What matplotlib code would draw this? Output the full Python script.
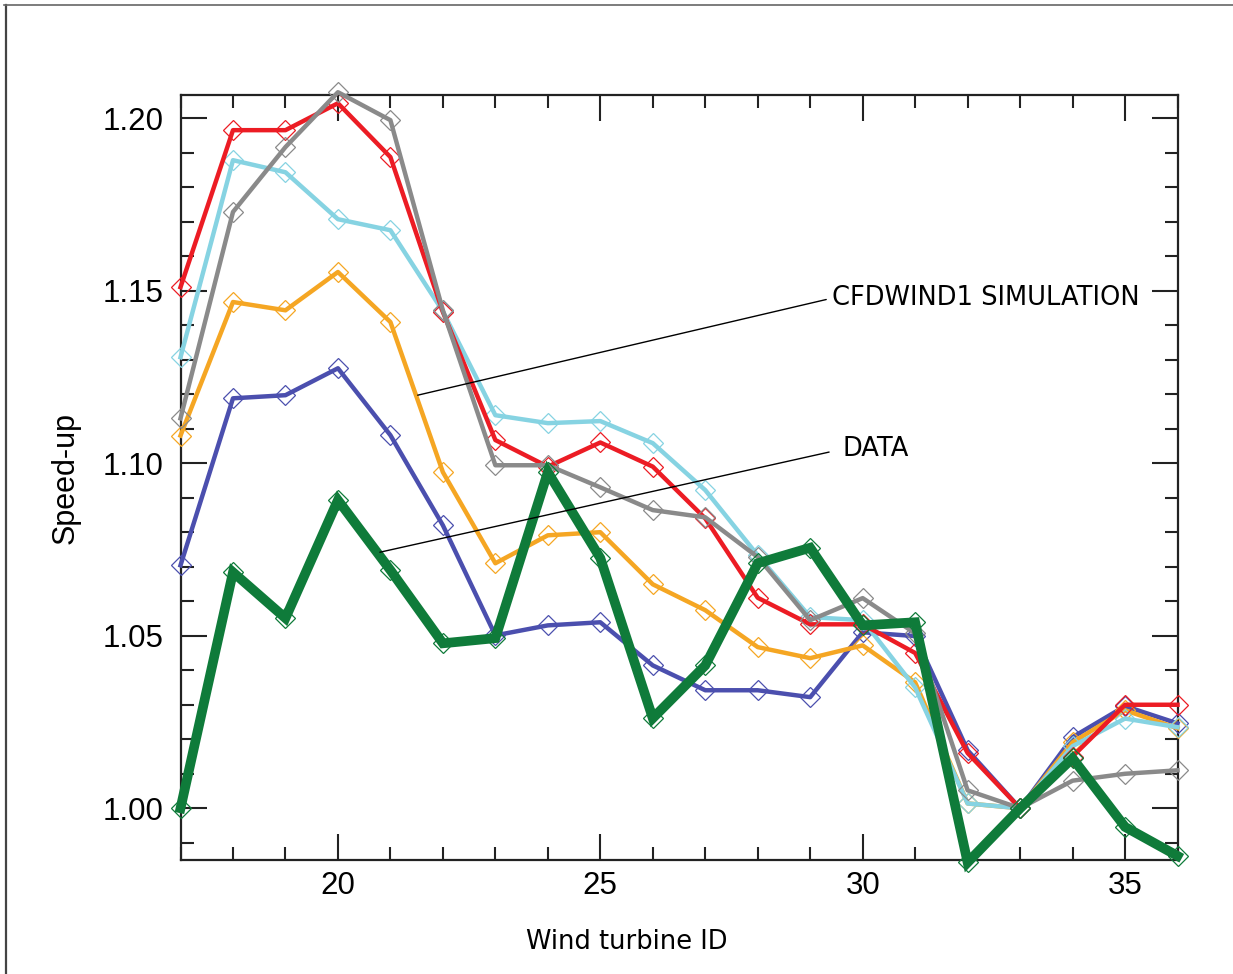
import matplotlib
matplotlib.use("Agg")
import matplotlib.pyplot as plt
from matplotlib.lines import Line2D
from matplotlib.ticker import MultipleLocator, FormatStrFormatter

# Wind turbine IDs along the row
turbine_id = list(range(17, 37))

# Measured speed-up (DATA)
data_obs = [1.000, 1.0684, 1.0551, 1.0893, 1.0690, 1.0478, 1.0493, 1.0974, 1.0725, 1.0261,
            1.0414, 1.0710, 1.0755, 1.0530, 1.0539, 0.9843, 1.0000, 1.0145, 0.9946, 0.9862]

# CFDWIND1 simulation runs
sim_red = [1.1510, 1.1965, 1.1965, 1.2043, 1.1887, 1.1438, 1.1067, 1.0990, 1.1060, 1.0990,
           1.0840, 1.0610, 1.0533, 1.0533, 1.0450, 1.0160, 1.0000, 1.0150, 1.0300, 1.0300]
sim_gray = [1.1130, 1.1728, 1.1916, 1.2075, 1.1994, 1.1443, 1.0994, 1.0994, 1.0930, 1.0864,
            1.0843, 1.0728, 1.0545, 1.0609, 1.0507, 1.0052, 1.0000, 1.0080, 1.0100, 1.0110]
sim_cyan = [1.1307, 1.1878, 1.1843, 1.1707, 1.1675, 1.1440, 1.1139, 1.1116, 1.1122, 1.1058,
            1.0922, 1.0733, 1.0554, 1.0545, 1.0350, 1.0014, 1.0000, 1.0180, 1.0260, 1.0235]
sim_orange = [1.1080, 1.1467, 1.1443, 1.1554, 1.1409, 1.0974, 1.0710, 1.0791, 1.0800, 1.0649,
              1.0574, 1.0467, 1.0435, 1.0472, 1.0365, 1.0014, 1.0000, 1.0191, 1.0284, 1.0232]
sim_blue = [1.0704, 1.1188, 1.1197, 1.1275, 1.1081, 1.0820, 1.0501, 1.0530, 1.0539, 1.0414,
            1.0342, 1.0342, 1.0322, 1.0510, 1.0499, 1.0168, 1.0000, 1.0206, 1.0296, 1.0246]

sim_series = [
    (sim_blue, "#4b4fae"),
    (sim_orange, "#f5a623"),
    (sim_cyan, "#86d3e2"),
    (sim_red, "#ec1c24"),
    (sim_gray, "#8a8a8a"),
]
data_color = "#0f7b3a"

fig = plt.figure(figsize=(12.33, 9.74), dpi=100)
ax = fig.add_axes([0.1464, 0.117, 0.8086, 0.7855])

for values, color in sim_series:
    ax.plot(turbine_id, values, color=color, lw=3.2, marker="D", ms=10,
            mfc="none", mec=color, mew=0.9, clip_on=False, zorder=3)
ax.plot(turbine_id, data_obs, color=data_color, lw=7, marker="D", ms=10,
        mfc="none", mec=data_color, mew=0.9, clip_on=False, zorder=4,
        solid_joinstyle="miter")

ax.set_xlim(17, 36)
ax.set_ylim(0.985, 1.2067)

ax.xaxis.set_major_locator(MultipleLocator(5))
ax.xaxis.set_minor_locator(MultipleLocator(1))
ax.yaxis.set_major_locator(MultipleLocator(0.05))
ax.yaxis.set_minor_locator(MultipleLocator(0.01))
ax.yaxis.set_major_formatter(FormatStrFormatter("%.2f"))

ax.tick_params(which="both", direction="in", top=True, right=True, width=1.5,
               color="#222222")
ax.tick_params(which="major", length=19, labelsize=22.5)
ax.tick_params(axis="x", which="major", pad=8)
ax.tick_params(axis="y", which="major", pad=12)
ax.tick_params(which="minor", length=9.5)
for lab in ax.get_xticklabels() + ax.get_yticklabels():
    lab.set_family("Liberation Sans")
for sp in ax.spines.values():
    sp.set_linewidth(1.6)
    sp.set_color("#222222")

ax.set_xlabel("Wind turbine ID", fontsize=18.5, family="DejaVu Sans")
ax.xaxis.set_label_coords(0.448, -0.090)
ax.set_ylabel("Speed-up", fontsize=22, family="Liberation Sans", labelpad=16)

arrow = dict(arrowstyle="-", color="black", lw=1.0, shrinkA=2, shrinkB=0,
             relpos=(0, 0.5))
ax.annotate("CFDWIND1 SIMULATION", xy=(21.52, 1.1197), xytext=(29.41, 1.1478),
            fontsize=18.5, family="DejaVu Sans", va="center", ha="left",
            arrowprops=arrow, zorder=5)
ax.annotate("DATA", xy=(20.80, 1.0742), xytext=(29.62, 1.1041),
            fontsize=18.5, family="DejaVu Sans", va="center", ha="left",
            arrowprops=dict(arrow, shrinkA=8), zorder=5)

# Thin frame along the top and left edges of the figure
fig.add_artist(Line2D([0.005, 0.005], [0.0, 0.995], transform=fig.transFigure,
                      color="#444444", lw=1.6))
fig.add_artist(Line2D([0.003, 1.0], [0.995, 0.995], transform=fig.transFigure,
                      color="#666666", lw=1.2))

fig.savefig("out.png", dpi=100)
